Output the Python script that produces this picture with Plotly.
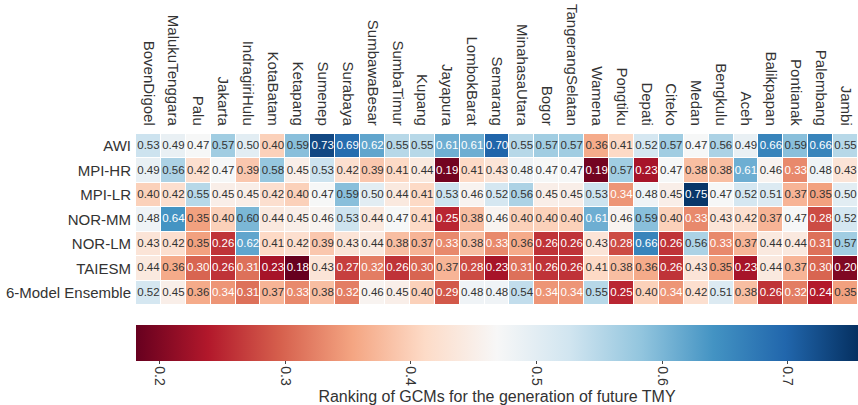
import plotly.graph_objects as go

sites = ["BovenDigoel", "MalukuTenggara", "Palu", "Jakarta", "IndragiriHulu", "KotaBatam", "Ketapang",
         "Sumenep", "Surabaya", "SumbawaBesar", "SumbaTimur", "Kupang", "Jayapura", "LombokBarat",
         "Semarang", "MinahasaUtara", "Bogor", "TangerangSelatan", "Wamena", "Pongtiku", "Depati",
         "Citeko", "Medan", "Bengkulu", "Aceh", "Balikpapan", "Pontianak", "Palembang", "Jambi"]
models = ["AWI", "MPI-HR", "MPI-LR", "NOR-MM", "NOR-LM", "TAIESM", "6-Model Ensemble"]

awi = [.53, .49, .47, .57, .50, .40, .59, .73, .69, .62, .55, .55, .61, .61, .70, .55, .57, .57, .36, .41, .52, .57, .47, .56, .49, .66, .59, .66, .55]
mpi_hr = [.49, .56, .42, .47, .39, .58, .45, .53, .42, .39, .41, .44, .19, .41, .43, .48, .47, .47, .19, .57, .23, .47, .38, .38, .61, .46, .33, .48, .43]
mpi_lr = [.40, .42, .55, .45, .45, .42, .40, .47, .59, .50, .44, .41, .53, .46, .52, .56, .45, .45, .53, .34, .48, .45, .75, .47, .52, .51, .37, .35, .50]
nor_mm = [.48, .64, .35, .40, .60, .44, .45, .46, .53, .44, .47, .41, .25, .38, .46, .40, .40, .40, .61, .46, .59, .40, .33, .43, .42, .37, .47, .28, .52]
nor_lm = [.43, .42, .35, .26, .62, .41, .42, .39, .43, .44, .38, .37, .33, .38, .33, .36, .26, .26, .43, .28, .66, .26, .56, .33, .37, .44, .44, .31, .57]
taiesm = [.44, .36, .30, .26, .31, .23, .18, .43, .27, .32, .26, .30, .37, .28, .23, .31, .26, .26, .41, .38, .36, .26, .43, .35, .23, .44, .37, .30, .20]
ensemble = [.52, .45, .36, .34, .31, .37, .33, .38, .32, .46, .45, .40, .29, .48, .48, .54, .34, .34, .55, .25, .40, .34, .42, .51, .38, .26, .32, .24, .35]

grid = [awi, mpi_hr, mpi_lr, nor_mm, nor_lm, taiesm, ensemble]

FONT = "Liberation Sans"

fig = go.Figure()
fig.add_trace(go.Heatmap(
    z=grid, x=sites, y=models, colorscale="RdBu", zmin=0.181, zmax=0.756,
    xgap=1, ygap=1, hoverongaps=False,
    colorbar=dict(
        orientation="h", x=0, xanchor="left", y=-0.116, yanchor="top", xpad=0, ypad=0,
        len=1, thickness=36, outlinewidth=0,
        tickvals=[0.2, 0.3, 0.4, 0.5, 0.6, 0.7], ticktext=["0.2", "0.3", "0.4", "0.5", "0.6", "0.7"],
        tickangle=90, ticks="outside", ticklen=3, tickcolor="#444", tickfont=dict(size=14, color="#333"),
        title=dict(text="Ranking of GCMs for the generation of future TMY", side="bottom",
                   font=dict(size=16, color="#333")),
    ),
))

# cell labels, white on the dark ends of the scale
xs, ys, labels, colors = [], [], [], []
for model, row in zip(models, grid):
    for site, v in zip(sites, row):
        xs.append(site)
        ys.append(model)
        labels.append(f"{v:.2f}")
        colors.append("white" if v <= 0.34 or v >= 0.61 else "#333333")
fig.add_trace(go.Scatter(x=xs, y=ys, mode="text", text=labels, textposition="middle center",
                         textfont=dict(size=11.5, color=colors, family=FONT), showlegend=False, hoverinfo="skip"))

fig.update_layout(
    width=858, height=405, margin=dict(l=136, r=0, t=134, b=98),
    paper_bgcolor="white", plot_bgcolor="white", font=dict(family=FONT, color="#333"),
    showlegend=False,
)
# text trace would pad the axes, so fix the ranges to the cells
fig.update_xaxes(side="top", tickangle=90, tickfont=dict(size=15, color="#333"), ticks="", showgrid=False,
                 zeroline=False, automargin=False, ticklabelstandoff=5, range=[-0.5, len(sites) - 0.5])
fig.update_yaxes(range=[len(models) - 0.5, -0.5], tickfont=dict(size=15, color="#333"), ticks="", showgrid=False,
                 zeroline=False, automargin=False, ticklabelstandoff=4)

# drop the page's default body margin so the figure fills the window
fig.write_html("out.html", config={"displayModeBar": False}, post_script="document.body.style.margin = '0';")
